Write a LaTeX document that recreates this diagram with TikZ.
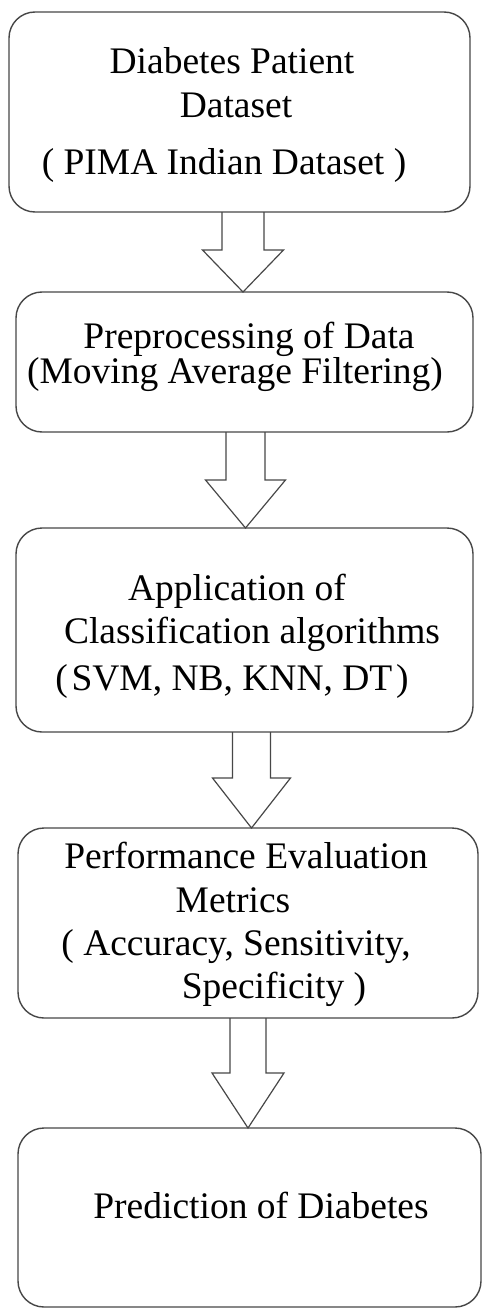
\documentclass[tikz,border=0pt]{standalone}
\usepackage{fontspec}
\setmainfont{Liberation Serif}
\usetikzlibrary{calc}
\tikzset{
 box/.style={draw=black!72, line width=1.4pt, rounded corners=26pt, inner sep=0pt, outer sep=0pt},
 txt/.style={anchor=base, inner sep=0pt, text=black, font=\fontsize{37.5}{45}\selectfont},
 blk/.style={draw=black!72, line width=1.2pt, line join=miter},
}
\newcommand\blkarrow[6]{%
 \draw[blk] let \p1=(#1.south), \p2=(#2.north) in
 ({#3pt-#4pt},\y1) -- ({#3pt-#4pt},{\y1-#6pt}) -- ({#3pt-#5pt},{\y1-#6pt}) -- (#3pt,\y2)
 -- ({#3pt+#5pt},{\y1-#6pt}) -- ({#3pt+#4pt},{\y1-#6pt}) -- ({#3pt+#4pt},\y1);}
\begin{document}
\begin{tikzpicture}[x=1pt,y=-1pt]
\useasboundingbox[fill=white] (0,0) rectangle (483,1308);
% boxes
\node[box, minimum width=461pt, minimum height=200pt] (b1) at (239.5,112) {};
\node[box, minimum width=457pt, minimum height=140pt] (b2) at (244.5,362) {};
\node[box, minimum width=457pt, minimum height=204pt] (b3) at (244.5,630) {};
\node[box, minimum width=460pt, minimum height=190pt] (b4) at (248,923) {};
\node[box, minimum width=463pt, minimum height=179pt] (b5) at (249.5,1217.5) {};
% texts
\node[txt] (t11) at (232,74) {Diabetes Patient};
\node[txt] (t12) at (236,118) {Dataset};
\node[txt] (t13) at (224,175) {( PIMA Indian Dataset )};
\node[txt] (t21) at (249,348) {Preprocessing of Data};
\node[txt] (t22) at (235,383) {(Moving Average Filtering)};
\node[txt] (t31) at (237,600) {Application of};
\node[txt] (t32) at (252,643) {Classification algorithms};
\node[txt] (t33) at (232,690) {(\hspace{0.1em}SVM, NB, KNN, DT\hspace{0.1em})};
\node[txt] (t41) at (246,868) {Performance Evaluation};
\node[txt] (t42) at (233,912) {Metrics};
\node[txt] (t43) at (236,955) {( Accuracy, Sensitivity,};
\node[txt] (t44) at (274,998) {Specificity )};
\node[txt] (t51) at (261,1218) {Prediction of Diabetes};
% block arrows
\blkarrow{b1}{b2}{243}{21}{40.5}{38}
\blkarrow{b2}{b3}{245.5}{19.5}{40}{48}
\blkarrow{b3}{b4}{251.5}{19}{39}{46}
\blkarrow{b4}{b5}{248}{18}{36}{55}
\end{tikzpicture}
\end{document}
